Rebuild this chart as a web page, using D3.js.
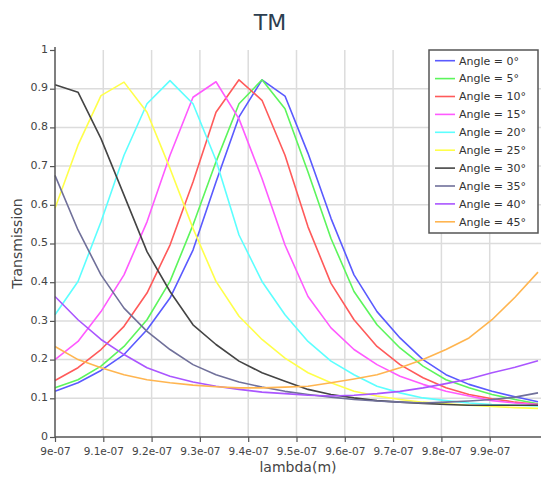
<!DOCTYPE html>
<html>
<head>
<meta charset="utf-8">
<script src="https://cdn.jsdelivr.net/npm/d3@7"></script>
<style>
  html, body { margin: 0; padding: 0; background: #fff; }
  svg { display: block; font-family: "DejaVu Sans", sans-serif; }
</style>
</head>
<body>
<svg id="chart" width="541" height="477"></svg>
<script>
// ---- data ----
const lambdaStart = 9e-7;
const lambdaEnd = 1e-6;
const nPoints = 22;
const lambdas = d3.range(nPoints).map(k => lambdaStart + k * (lambdaEnd - lambdaStart) / (nPoints - 1));

const seriesNames = ["Angle = 0°", "Angle = 5°", "Angle = 10°", "Angle = 15°", "Angle = 20°",
                     "Angle = 25°", "Angle = 30°", "Angle = 35°", "Angle = 40°", "Angle = 45°"];
const seriesColors = ["#5a5aff", "#5cf55c", "#ff5a5a", "#ff5aff", "#5cffff",
                      "#ffff4a", "#444444", "#70709a", "#aa55ff", "#ffb550"];

const angle0  = [0.118,0.140,0.172,0.213,0.277,0.359,0.483,0.659,0.827,0.923,0.881,0.733,0.565,0.419,0.324,0.256,0.200,0.161,0.136,0.118,0.104,0.091];
const angle5  = [0.127,0.148,0.183,0.234,0.303,0.402,0.548,0.711,0.861,0.923,0.848,0.685,0.513,0.376,0.290,0.230,0.183,0.148,0.127,0.110,0.097,0.086];
const angle10 = [0.146,0.179,0.226,0.286,0.372,0.496,0.659,0.839,0.923,0.870,0.728,0.543,0.397,0.303,0.234,0.187,0.153,0.127,0.110,0.099,0.090,0.084];
const angle15 = [0.200,0.247,0.324,0.419,0.556,0.728,0.878,0.918,0.822,0.668,0.496,0.363,0.282,0.226,0.187,0.157,0.136,0.118,0.106,0.094,0.088,0.084];
const angle20 = [0.316,0.402,0.556,0.728,0.861,0.921,0.861,0.715,0.522,0.402,0.316,0.247,0.196,0.161,0.131,0.114,0.101,0.094,0.088,0.084,0.082,0.080];
const angle25 = [0.591,0.754,0.882,0.917,0.839,0.694,0.539,0.402,0.312,0.252,0.204,0.166,0.140,0.118,0.106,0.097,0.090,0.086,0.082,0.079,0.076,0.074];
const angle30 = [0.910,0.891,0.771,0.625,0.479,0.376,0.290,0.239,0.196,0.166,0.144,0.123,0.110,0.101,0.094,0.090,0.087,0.084,0.082,0.082,0.082,0.082];
const angle35 = [0.676,0.535,0.419,0.333,0.273,0.226,0.187,0.161,0.142,0.129,0.118,0.110,0.103,0.097,0.093,0.090,0.088,0.090,0.093,0.097,0.103,0.114];
const angle40 = [0.363,0.303,0.252,0.213,0.179,0.157,0.142,0.131,0.123,0.116,0.112,0.108,0.106,0.108,0.112,0.118,0.127,0.138,0.150,0.166,0.180,0.197];
const angle45 = [0.234,0.200,0.179,0.161,0.148,0.140,0.134,0.130,0.127,0.127,0.129,0.131,0.140,0.150,0.161,0.179,0.200,0.226,0.256,0.303,0.361,0.426];

const seriesValues = [angle0, angle5, angle10, angle15, angle20, angle25, angle30, angle35, angle40, angle45];

const xTickValues = [9e-7, 9.1e-7, 9.2e-7, 9.3e-7, 9.4e-7, 9.5e-7, 9.6e-7, 9.7e-7, 9.8e-7, 9.9e-7];
const xTickLabels = ["9e-07", "9.1e-07", "9.2e-07", "9.3e-07", "9.4e-07", "9.5e-07", "9.6e-07", "9.7e-07", "9.8e-07", "9.9e-07"];
const yTickValues = [0, 0.1, 0.2, 0.3, 0.4, 0.5, 0.6, 0.7, 0.8, 0.9, 1];
const yTickLabels = ["0", "0.1", "0.2", "0.3", "0.4", "0.5", "0.6", "0.7", "0.8", "0.9", "1"];

// ---- layout ----
const svg = d3.select("#chart");
const plotLeft = 55, plotRight = 538, plotTop = 50, plotBottom = 437;

const x = d3.scaleLinear().domain([lambdaStart, lambdaEnd]).range([plotLeft, plotRight]);
const y = d3.scaleLinear().domain([0, 1]).range([plotBottom, plotTop]);

// title
svg.append("text")
  .attr("x", 270).attr("y", 30)
  .attr("text-anchor", "middle")
  .attr("font-size", 22)
  .attr("fill", "#2c3e50")
  .text("TM");

// grid
const grid = svg.append("g").attr("class", "grid");
grid.selectAll("line.h").data(yTickValues.filter(v => v > 0 && v < 1)).join("line")
  .attr("class", "h")
  .attr("x1", plotLeft).attr("x2", plotRight + 3)
  .attr("y1", d => y(d)).attr("y2", d => y(d))
  .attr("stroke", "#dcdcdc").attr("stroke-width", 1.5);
grid.selectAll("line.v").data(xTickValues.slice(1)).join("line")
  .attr("class", "v")
  .attr("x1", d => x(d)).attr("x2", d => x(d))
  .attr("y1", plotTop).attr("y2", plotBottom)
  .attr("stroke", "#dcdcdc").attr("stroke-width", 1.5);

// series lines
const line = d3.line()
  .x((d, i) => x(lambdas[i]))
  .y(d => y(d));

svg.append("g").selectAll("path").data(seriesValues).join("path")
  .attr("d", d => line(d))
  .attr("fill", "none")
  .attr("stroke", (d, i) => seriesColors[i])
  .attr("stroke-width", 1.6)
  .attr("stroke-linejoin", "round");

// axes
const xAxis = d3.axisBottom(x)
  .tickValues(xTickValues)
  .tickFormat((d, i) => xTickLabels[i])
  .tickSize(5)
  .tickSizeOuter(0);
const gx = svg.append("g").attr("transform", `translate(0,${plotBottom})`).call(xAxis);
gx.select(".domain").attr("stroke", "#555").attr("stroke-width", 1.5)
  .attr("d", `M${plotLeft},0H${plotRight + 3}`);
gx.selectAll(".tick line").attr("stroke", "#555").attr("stroke-width", 1.2);
gx.selectAll(".tick text").attr("font-size", 10.5).attr("fill", "#444")
  .attr("font-family", "DejaVu Sans, sans-serif").attr("y", 9).attr("dy", "0.9em");

const yAxis = d3.axisLeft(y)
  .tickValues(yTickValues)
  .tickFormat((d, i) => yTickLabels[i])
  .tickSize(5)
  .tickSizeOuter(0);
const gy = svg.append("g").attr("transform", `translate(${plotLeft},0)`).call(yAxis);
gy.select(".domain").attr("stroke", "#555").attr("stroke-width", 1.5)
  .attr("d", `M0,${plotTop - 3}V${plotBottom}`);
gy.selectAll(".tick line").attr("stroke", "#555").attr("stroke-width", 1.2);
gy.selectAll(".tick text").attr("font-size", 11).attr("fill", "#444")
  .attr("font-family", "DejaVu Sans, sans-serif").attr("x", -7).attr("dy", "0.2em");

// axis titles
svg.append("text")
  .attr("x", 298).attr("y", 472)
  .attr("text-anchor", "middle")
  .attr("font-size", 14).attr("fill", "#444")
  .text("lambda(m)");
svg.append("text")
  .attr("transform", `translate(22,${(plotTop + plotBottom) / 2}) rotate(-90)`)
  .attr("text-anchor", "middle")
  .attr("font-size", 14).attr("fill", "#444")
  .text("Transmission");

// legend
const legX = 429, legY = 50, legW = 109, legH = 183, rowH = 17.9;
const leg = svg.append("g");
leg.append("rect")
  .attr("x", legX).attr("y", legY).attr("width", legW).attr("height", legH)
  .attr("fill", "#fff").attr("stroke", "#555").attr("stroke-width", 1.5);
const rows = leg.selectAll("g.row").data(seriesNames).join("g")
  .attr("class", "row")
  .attr("transform", (d, i) => `translate(0,${legY + 10.7 + i * rowH})`);
rows.append("line")
  .attr("x1", legX + 6).attr("x2", legX + 26)
  .attr("y1", 0).attr("y2", 0)
  .attr("stroke", (d, i) => seriesColors[i]).attr("stroke-width", 1.6);
rows.append("text")
  .attr("x", legX + 30).attr("y", 0).attr("dy", "0.35em")
  .attr("font-size", 11).attr("fill", "#333")
  .text(d => d);
</script>
</body>
</html>
